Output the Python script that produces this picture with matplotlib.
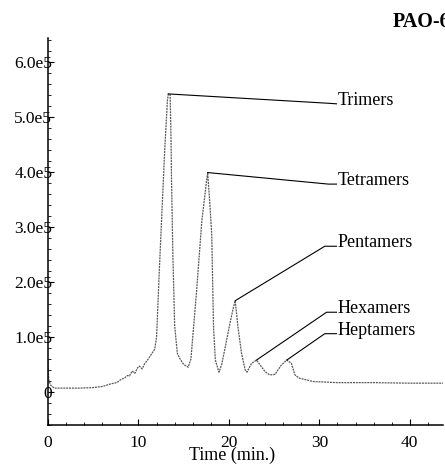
import matplotlib
matplotlib.use('Agg')
from matplotlib import pyplot as plt
from matplotlib.ticker import MultipleLocator, FuncFormatter

plt.rcParams['font.family'] = ['Liberation Serif', 'DejaVu Serif']

# GPC trace of PAO-6: retention time (min) and detector response (x 1e5)
time_min = [0.0, 0.05, 0.1, 0.3, 0.7, 2.0, 3.5, 5.0, 6.0, 7.0, 7.6, 8.0, 8.5, 8.8,
            9.0, 9.3, 9.6, 9.9, 10.1, 10.4, 10.7, 11.0, 11.4, 11.8, 12.0, 12.3,
            12.6, 12.9, 13.2, 13.3, 13.5, 13.6, 13.65, 13.8, 14.0, 14.3, 14.6,
            15.0, 15.5, 15.8, 16.0, 16.4, 17.0, 17.5, 17.65, 17.9, 18.1, 18.3,
            18.5, 18.9, 19.2, 19.6, 20.1, 20.5, 20.7, 21.0, 21.4, 21.8, 22.0,
            22.5, 23.05, 23.5, 24.0, 24.5, 25.1, 25.8, 26.4, 26.9, 27.3, 27.8,
            28.6, 29.3, 32.0, 36.0, 40.0, 43.7]
response = [0.6, 0.3, 0.2, 0.12, 0.07, 0.07, 0.07, 0.08, 0.1, 0.15, 0.17, 0.22, 0.26, 0.3,
            0.29, 0.38, 0.34, 0.44, 0.47, 0.42, 0.52, 0.58, 0.68, 0.78, 1.0, 2.2,
            3.3, 4.4, 5.3, 5.42, 5.4, 4.6, 3.9, 2.5, 1.2, 0.7, 0.6,
            0.5, 0.45, 0.6, 1.0, 1.78, 3.1, 3.8, 3.99, 3.4, 2.86, 1.17,
            0.58, 0.36, 0.5, 0.82, 1.24, 1.54, 1.66, 1.18, 0.7, 0.4, 0.36,
            0.52, 0.58, 0.48, 0.37, 0.31, 0.32, 0.49, 0.58, 0.52, 0.31, 0.25,
            0.22, 0.19, 0.17, 0.17, 0.16, 0.16]

# peak labels: name, apex (t, y), elbow (t, y), label anchor (t, y)
peak_names = ['Trimers', 'Tetramers', 'Pentamers', 'Hexamers', 'Heptamers']
peak_apex = [(13.3, 5.42), (17.65, 3.99), (20.7, 1.66), (23.05, 0.58), (26.4, 0.58)]
label_elbow = [(31.0, 5.25), (31.0, 3.78), (30.6, 2.65), (30.8, 1.45), (30.6, 1.06)]
label_pos = [(31.9, 5.24), (31.9, 3.78), (31.9, 2.65), (31.9, 1.45), (31.9, 1.06)]

y_ticks = [0, 1, 2, 3, 4, 5, 6]
x_ticks = [0, 10, 20, 30, 40]

fig = plt.figure(figsize=(4.45, 4.67), dpi=100)
ax = fig.add_axes([0.108, 0.09, 0.888, 0.829])

ax.plot(time_min, response, color='0.35', lw=0.9, linestyle=(0, (1.6, 0.7)))

for name, apex, elbow, pos in zip(peak_names, peak_apex, label_elbow, label_pos):
    ax.plot([apex[0], elbow[0], pos[0]], [apex[1], elbow[1], pos[1]], color='black', lw=0.8)
    ax.text(pos[0] + 0.1, pos[1] - 0.02, name, fontsize=13, ha='left', va='baseline')

ax.set_xlim(0, 43.7)
ax.set_ylim(-0.6, 6.44)

for side in ['top', 'right']:
    ax.spines[side].set_visible(False)
for side in ['left', 'bottom']:
    ax.spines[side].set_linewidth(1.1)

ax.set_xticks(x_ticks)
ax.set_yticks(y_ticks)
ax.xaxis.set_minor_locator(MultipleLocator(2))
ax.yaxis.set_minor_locator(MultipleLocator(0.2))
ax.yaxis.set_major_formatter(FuncFormatter(lambda v, p: '0' if v == 0 else f'{v:.1f}e5'))
ax.tick_params(axis='both', which='major', direction='in', length=4, width=0.8, labelsize=12.5)
ax.tick_params(axis='both', which='minor', direction='in', length=2, width=0.6)
ax.tick_params(axis='y', pad=-3)
ax.tick_params(axis='x', pad=7)

ax.set_xlabel('Time (min.)', fontsize=13)
ax.xaxis.set_label_coords(0.466, -0.055)
ax.xaxis.label.set_va('top')

fig.text(0.883, 0.942, 'PAO-6', fontsize=14.5, fontweight='bold', ha='left', va='baseline')

fig.savefig('out.png', dpi=100)
